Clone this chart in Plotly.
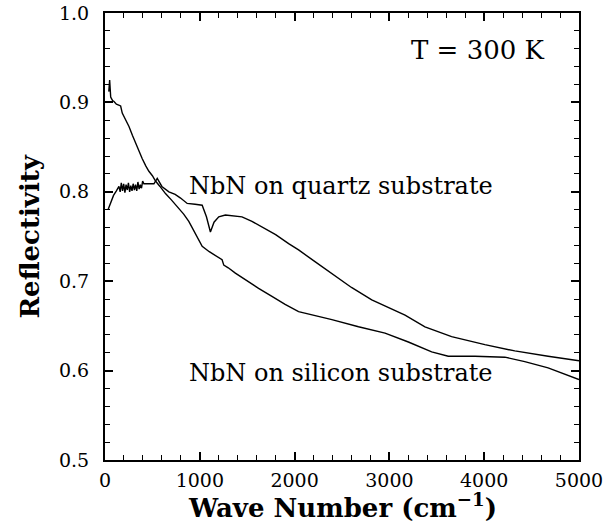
import plotly.graph_objects as go

# Data
quartz_x = [32, 60, 90, 120, 147, 160, 172, 185, 197, 210, 222, 235, 247, 260, 272, 285, 297, 310,
            322, 335, 347, 360, 372, 385, 397, 410, 460, 516, 551, 600, 674, 740, 797, 867, 950,
            1025, 1070, 1112, 1150, 1200, 1270, 1340, 1445, 1550, 1656, 1800, 1937, 2042, 2200,
            2393, 2600, 2814, 3000, 3165, 3375, 3656, 4007, 4323, 4674, 4972, 5000]
quartz_y = [0.780, 0.788, 0.796, 0.801, 0.806, 0.800, 0.810, 0.801, 0.809, 0.799, 0.808, 0.802,
            0.810, 0.800, 0.807, 0.801, 0.809, 0.802, 0.808, 0.801, 0.811, 0.803, 0.808, 0.804,
            0.812, 0.809, 0.809, 0.809, 0.815, 0.806, 0.800, 0.797, 0.793, 0.787, 0.786,
            0.785, 0.772, 0.755, 0.766, 0.772, 0.774, 0.773, 0.772, 0.767, 0.761, 0.752, 0.742,
            0.735, 0.723, 0.709, 0.693, 0.679, 0.670, 0.662, 0.649, 0.638, 0.629, 0.622, 0.616,
            0.611, 0.611]

silicon_x = [40, 49, 55, 60, 70, 80, 95, 120, 145, 165, 182, 210, 253, 290, 323, 360, 393, 430, 463,
             500, 533, 580, 638, 700, 779, 830, 884, 950, 1025, 1100, 1165, 1235, 1253, 1300,
             1375, 1500, 1620, 1761, 1900, 2042, 2200, 2393, 2674, 2954, 3200, 3446, 3621,
             3902, 4218, 4428, 4674, 4972, 5000]
silicon_y = [0.912, 0.925, 0.915, 0.906, 0.904, 0.902, 0.901, 0.898, 0.897, 0.896, 0.888, 0.882, 0.873,
             0.863, 0.854, 0.845, 0.837, 0.829, 0.823, 0.818, 0.812, 0.806, 0.798, 0.791,
             0.782, 0.775, 0.767, 0.754, 0.739, 0.733, 0.729, 0.724, 0.718, 0.715,
             0.709, 0.700, 0.692, 0.683, 0.674, 0.666, 0.662, 0.657, 0.649, 0.642, 0.632,
             0.621, 0.616, 0.616, 0.615, 0.610, 0.603, 0.591, 0.590]

x_ticks = [0, 1000, 2000, 3000, 4000, 5000]
y_ticks = [0.5, 0.6, 0.7, 0.8, 0.9, 1.0]

FONT = "DejaVu Serif"

fig = go.Figure()
fig.add_trace(go.Scatter(x=quartz_x, y=quartz_y, mode="lines",
                         line=dict(color="black", width=1.4), showlegend=False))
fig.add_trace(go.Scatter(x=silicon_x, y=silicon_y, mode="lines",
                         line=dict(color="black", width=1.4), showlegend=False))

axis_common = dict(showline=True, linecolor="black", linewidth=2, mirror="allticks",
                   ticks="inside", tickcolor="black", showgrid=False, zeroline=False,
                   automargin=False, layer="above traces",
                   tickfont=dict(family=FONT, size=19, color="black"))

fig.update_xaxes(range=[0, 5000], tickvals=x_ticks, ticklen=8, tickwidth=1.5,
                 ticklabelstandoff=2,
                 minor=dict(ticks="inside", dtick=200, ticklen=5, tickcolor="black", tickwidth=1.2,
                            showgrid=False),
                 **axis_common)
fig.update_yaxes(range=[0.5, 1.0], tickvals=y_ticks, tickformat=".1f", ticklen=8, tickwidth=1.5,
                 ticklabelstandoff=10,
                 minor=dict(ticks="inside", dtick=0.02, ticklen=5, tickcolor="black", tickwidth=1.2,
                            showgrid=False),
                 **axis_common)

# axis titles
fig.add_annotation(xref="paper", yref="paper", x=0.5, y=0, yshift=-46, yanchor="middle",
                   text="<b>Wave Number (cm<sup>−1</sup>)</b>", showarrow=False,
                   font=dict(family=FONT, size=26, color="black"))
fig.add_annotation(xref="paper", yref="paper", x=0, y=0.5, xshift=-76, xanchor="center",
                   text="<b>Reflectivity</b>", textangle=-90, showarrow=False,
                   font=dict(family=FONT, size=26, color="black"))

fig.add_annotation(x=4665, y=0.9585, text="T = 300 K", showarrow=False, xanchor="right",
                   yanchor="middle", font=dict(family=FONT, size=26, color="black"))
fig.add_annotation(x=870, y=0.8065, text="NbN on quartz substrate", showarrow=False,
                   xanchor="left", yanchor="middle", font=dict(family=FONT, size=24, color="black"))
fig.add_annotation(x=870, y=0.597, text="NbN on silicon substrate", showarrow=False,
                   xanchor="left", yanchor="middle", font=dict(family=FONT, size=24, color="black"))

fig.update_layout(width=613, height=522, margin=dict(l=105, r=34, t=13, b=62),
                  plot_bgcolor="white", paper_bgcolor="white")

fig.write_html("out.html")
